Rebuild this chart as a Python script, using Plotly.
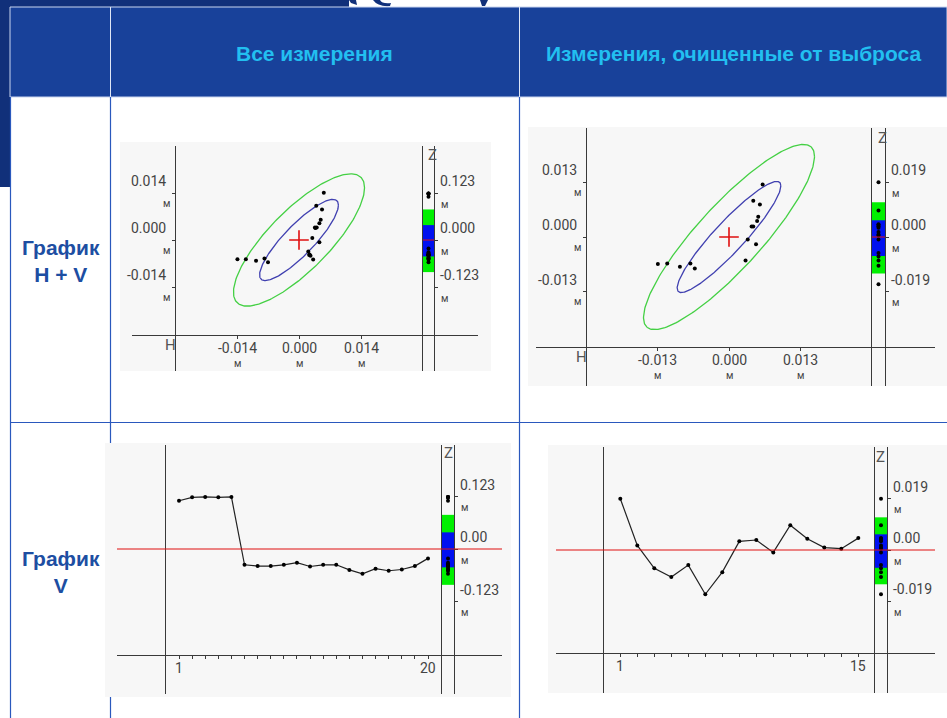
import numpy as np
import plotly.graph_objects as go

W, H = 947, 718

# ---------------- data ----------------
# H+V scatter, all measurements (H, V), м
hv_all_h = [-0.0139, -0.0120, -0.0097, -0.0078, -0.0070, 0.0021, 0.0023, 0.0024, 0.0026, 0.0032,
            0.0030, 0.0046, 0.0036, 0.0037, 0.0040, 0.0046, 0.0049, 0.0039, 0.0052, 0.0056]
hv_all_v = [-0.0057, -0.0057, -0.0062, -0.0055, -0.0066, -0.0034, -0.0045, -0.0043, -0.0047, -0.0058,
            0.0006, -0.0007, 0.0037, 0.0036, 0.0037, 0.0050, 0.0060, 0.0102, 0.0091, 0.0141]
# V series, all measurements, м
v_all = [0.113, 0.121, 0.122, 0.121, 0.122, -0.037, -0.040, -0.040, -0.037, -0.032,
         -0.041, -0.037, -0.037, -0.049, -0.058, -0.046, -0.051, -0.048, -0.040, -0.022]

# H+V scatter, outlier removed
hv_clean_h = [-0.0129, -0.0112, -0.0089, -0.0070, -0.0062, 0.0030, 0.0034, 0.0049, 0.0041, 0.0044,
              0.0051, 0.0053, 0.0044, 0.0056, 0.0061]
hv_clean_v = [-0.0064, -0.0063, -0.0071, -0.0063, -0.0075, -0.0056, -0.0006, -0.0017, 0.0025, 0.0025,
              0.0038, 0.0048, 0.0086, 0.0077, 0.0125]
# V series, outlier removed
v_clean = [0.0190, 0.0017, -0.0068, -0.0100, -0.0056, -0.0164, -0.0082, 0.0032, 0.0037, -0.0009,
           0.0092, 0.0042, 0.0009, 0.0005, 0.0044]

# tolerance bands of the Z strip (low, high)
all_green_band = [-0.084, 0.080]
all_blue_band = [-0.043, 0.039]
clean_green_band = [-0.0127, 0.0121]
clean_blue_band = [-0.0066, 0.0058]

# confidence ellipses: (half-width H, half-height V, correlation)
all_green_ellipse = (0.0148, 0.0197, 0.79)
all_blue_ellipse = (0.0089, 0.0121, 0.86)
clean_green_ellipse = (0.0155, 0.0220, 0.87)
clean_blue_ellipse = (0.0094, 0.0132, 0.92)

# tick values / labels
all_hv_ticks = [-0.014, 0.0, 0.014]
all_hv_labels = ["-0.014", "0.000", "0.014"]
clean_hv_ticks = [-0.013, 0.0, 0.013]
clean_hv_labels = ["-0.013", "0.000", "0.013"]
all_z_ticks = [0.123, 0.0, -0.123]
all_z_labels_hv = ["0.123", "0.000", "-0.123"]
all_z_labels_v = ["0.123", "0.00", "-0.123"]
clean_z_ticks = [0.019, 0.0, -0.019]
clean_z_labels_hv = ["0.019", "0.000", "-0.019"]
clean_z_labels_v = ["0.019", "0.00", "-0.019"]

header_texts = ["Все измерения", "Измерения, очищенные от выброса"]
row_texts = ["График<br>H + V", "График<br>V"]
unit = "м"

# ---------------- styling ----------------
NAVY = "#11307a"
HEADER = "#18419a"
CYAN = "#22bff0"
LABEL_BLUE = "#1d4ea2"
BORDER = "#2a58bd"
PANEL_BG = "#f7f7f7"
AXIS = "#3a3a3a"
TEXT = "#444444"
GREEN_ELL = "#44d044"
BLUE_ELL = "#4040b0"
BAND_GREEN = "#00f000"
BAND_BLUE = "#0010f0"
RED = "#e01010"
CHART_FONT = "Roboto"
TABLE_FONT = "Liberation Sans, Arial"


def fx(px):
    return px / W


def fy(py):
    return 1 - py / H


def xrange_of(dom, m):
    ref_px, ref_val, ppv = m
    return [ref_val + (dom[0] - ref_px) / ppv, ref_val + (dom[1] - ref_px) / ppv]


def yrange_of(dom, m):
    ref_px, ref_val, ppv = m
    return [ref_val + (ref_px - dom[1]) / ppv, ref_val + (ref_px - dom[0]) / ppv]


def ellipse(rx, ry, rho, n=240):
    t = np.linspace(0, 2 * np.pi, n)
    return rx * np.cos(t), ry * (rho * np.cos(t) + np.sqrt(1 - rho ** 2) * np.sin(t))


def note(text, font, **kw):
    d = dict(text=text, showarrow=False, font=font, xanchor="center", yanchor="middle")
    d.update(kw)
    return d


# panel geometry in pixels; maps are (reference px, value at it, px per unit)
panels = [
    dict(kind="hv", bg=(120, 142, 491, 371), xdom=(132, 478), ydom=(146, 371), xline=335, yline=175,
         xmap=(299, 0.0, 62 / 0.014), ymap=(240, 0.0, 47 / 0.014), strip=(423, 434),
         zmap=(240, 0.0, 47 / 0.123), h=hv_all_h, v=hv_all_v, z=v_all,
         ell=[(all_green_ellipse, GREEN_ELL), (all_blue_ellipse, BLUE_ELL)],
         bands=(all_green_band, all_blue_band), ticks=all_hv_ticks, labels=all_hv_labels,
         zt=all_z_ticks, zl=all_z_labels_hv, hpos=(170, 345), zpos=(432, 155)),
    dict(kind="hv", bg=(528, 127, 947, 386), xdom=(536, 935), ydom=(128, 386), xline=347, yline=586,
         xmap=(729, 0.0, 71.7 / 0.013), ymap=(237, 0.0, 54.7 / 0.013), strip=(872, 885),
         zmap=(237, 0.0, 54.7 / 0.019), h=hv_clean_h, v=hv_clean_v, z=v_clean,
         ell=[(clean_green_ellipse, GREEN_ELL), (clean_blue_ellipse, BLUE_ELL)],
         bands=(clean_green_band, clean_blue_band), ticks=clean_hv_ticks, labels=clean_hv_labels,
         zt=clean_z_ticks, zl=clean_z_labels_hv, hpos=(581, 357), zpos=(882, 138)),
    dict(kind="v", bg=(105, 443, 511, 697), xdom=(117, 502), ydom=(445, 694), xline=655, yline=165,
         xmap=(179, 1, 13.105), zmap=(549, 0.0, 52.5 / 0.123), strip=(442, 454), z=v_all,
         bands=(all_green_band, all_blue_band), zt=all_z_ticks, zl=all_z_labels_v, zpos=(448, 453)),
    dict(kind="v", bg=(548, 445, 947, 693), xdom=(556, 935), ydom=(447, 693), xline=653, yline=603,
         xmap=(620.3, 1, 17.0), zmap=(550, 0.0, 51.3 / 0.019), strip=(875, 887), z=v_clean,
         bands=(clean_green_band, clean_blue_band), zt=clean_z_ticks, zl=clean_z_labels_v,
         zpos=(880, 457)),
]

fig = go.Figure()
layout = dict(width=W, height=H, margin=dict(l=0, r=0, t=0, b=0), paper_bgcolor="white",
              plot_bgcolor="rgba(0,0,0,0)", showlegend=False)
shapes = []
annotations = []

# ---------------- table frame ----------------
shapes += [
    dict(type="rect", xref="paper", yref="paper", x0=0, x1=fx(349), y0=fy(7), y1=1,
         fillcolor=NAVY, line_width=0, layer="below"),
    dict(type="path", xref="paper", yref="paper", layer="below", fillcolor=NAVY, line_width=0,
         path=f"M {fx(349)},1 L {fx(356)},1 L {fx(357)},{fy(5)} L {fx(351)},{fy(3)} Z"),
    dict(type="path", xref="paper", yref="paper", layer="below", fillcolor=NAVY, line_width=0,
         path=f"M {fx(373)},1 L {fx(380)},1 Q {fx(382)},{fy(4)} {fx(391)},{fy(3)} "
              f"L {fx(390)},{fy(6)} Q {fx(378)},{fy(7)} {fx(373)},1 Z"),
    dict(type="path", xref="paper", yref="paper", layer="below", fillcolor=NAVY, line_width=0,
         path=f"M {fx(480)},1 L {fx(488)},1 L {fx(485)},{fy(6)} L {fx(482)},{fy(6)} Z"),
    dict(type="rect", xref="paper", yref="paper", x0=0, x1=fx(10), y0=fy(187), y1=1,
         fillcolor=NAVY, line_width=0, layer="below"),
    dict(type="rect", xref="paper", yref="paper", x0=fx(10), x1=1, y0=fy(97), y1=fy(7),
         fillcolor=HEADER, line=dict(color="#c9d5ef", width=1), layer="below"),
]
for xc in (110.5, 519.5):
    shapes.append(dict(type="line", xref="paper", yref="paper", x0=fx(xc), x1=fx(xc), y0=fy(97),
                       y1=fy(7), line=dict(color="#dfe6f5", width=1), layer="below"))
for xc in (10.5, 110.5, 519.5):
    shapes.append(dict(type="line", xref="paper", yref="paper", x0=fx(xc), x1=fx(xc), y0=0,
                       y1=fy(97), line=dict(color=BORDER, width=1.2), layer="below"))
shapes.append(dict(type="line", xref="paper", yref="paper", x0=fx(10), x1=1, y0=fy(422.5),
                   y1=fy(422.5), line=dict(color=BORDER, width=1.2), layer="below"))

header_font = dict(family=TABLE_FONT, size=21, color=CYAN)
row_font = dict(family=TABLE_FONT, size=21, color=LABEL_BLUE)
for txt, xc in zip(header_texts, ((110 + 519) / 2, (519 + 947) / 2)):
    annotations.append(note(f"<b>{txt}</b>", header_font, xref="paper", yref="paper",
                            x=fx(xc), y=fy(53)))
for txt, yc in zip(row_texts, (261, 572)):
    annotations.append(note(f"<b>{txt}</b>", row_font, xref="paper", yref="paper",
                            x=fx(61), y=fy(yc)))

num_font = dict(family=CHART_FONT, size=14, color=TEXT)
unit_font = dict(family=CHART_FONT, size=10, color=TEXT)
axis_font = dict(family=CHART_FONT, size=15, color="#555555")

# ---------------- chart panels ----------------
for k, p in enumerate(panels):
    mi, si = 2 * k + 1, 2 * k + 2
    mx, my = ("x", "y") if mi == 1 else (f"x{mi}", f"y{mi}")
    sx, sy = f"x{si}", f"y{si}"
    ydom = [fy(p["ydom"][1]), fy(p["ydom"][0])]
    ymap = p["ymap"] if p["kind"] == "hv" else p["zmap"]

    # panel background
    bx0, by0, bx1, by1 = p["bg"]
    shapes.append(dict(type="rect", xref="paper", yref="paper", x0=fx(bx0), x1=fx(bx1),
                       y0=fy(by1), y1=fy(by0), fillcolor=PANEL_BG, line_width=0, layer="below"))

    is_hv = p["kind"] == "hv"
    if is_hv:
        xt = p["ticks"]
    else:
        xt = list(range(1, len(p["z"]) + 1))

    layout["xaxis" if mi == 1 else f"xaxis{mi}"] = dict(
        domain=[fx(p["xdom"][0]), fx(p["xdom"][1])], range=xrange_of(p["xdom"], p["xmap"]),
        anchor="free", position=fy(p["xline"]), showline=True, linecolor=AXIS, linewidth=1.2,
        ticks="outside", ticklen=3, tickcolor=AXIS, tickvals=xt, showticklabels=False,
        showgrid=False, zeroline=False, fixedrange=True)
    layout["yaxis" if mi == 1 else f"yaxis{mi}"] = dict(
        domain=ydom, range=yrange_of(p["ydom"], ymap), anchor="free", position=fx(p["yline"]),
        side="left", showline=True, linecolor=AXIS, linewidth=1.2,
        ticks="outside" if is_hv else "", ticklen=3, tickcolor=AXIS,
        tickvals=p["ticks"] if is_hv else [], showticklabels=False, showgrid=False,
        zeroline=False, fixedrange=True)
    layout[f"xaxis{si}"] = dict(domain=[fx(p["strip"][0]), fx(p["strip"][1])], range=[-1, 1],
                                anchor=sy, visible=False, fixedrange=True)
    layout[f"yaxis{si}"] = dict(
        domain=ydom, range=yrange_of(p["ydom"], p["zmap"]), anchor=sx, side="right",
        showline=True, mirror=True, linecolor=AXIS, linewidth=1.2, ticks="outside", ticklen=3,
        tickcolor=AXIS, tickvals=p["zt"], showticklabels=False, showgrid=False, zeroline=False,
        fixedrange=True)

    # Z strip bands
    green, blue = p["bands"]
    for band, col in ((green, BAND_GREEN), (blue, BAND_BLUE)):
        shapes.append(dict(type="rect", xref=f"{sx} domain", yref=sy, x0=0, x1=1, y0=band[0],
                           y1=band[1], fillcolor=col, line_width=0, layer="below"))

    if is_hv:
        shapes.append(dict(type="line", xref=f"{sx} domain", yref=sy, x0=0, x1=1, y0=0, y1=0,
                           line=dict(color=RED, width=1), layer="above"))
        for (rx, ry, rho), col in p["ell"]:
            ex, ey = ellipse(rx, ry, rho)
            fig.add_trace(go.Scatter(x=ex, y=ey, mode="lines", xaxis=mx, yaxis=my,
                                     line=dict(color=col, width=1.3), hoverinfo="skip"))
        fig.add_trace(go.Scatter(x=p["h"], y=p["v"], mode="markers", xaxis=mx, yaxis=my,
                                 marker=dict(color="black", size=4)))
        fig.add_trace(go.Scatter(x=[0], y=[0], mode="markers", xaxis=mx, yaxis=my,
                                 marker=dict(symbol="cross-thin", size=14,
                                             line=dict(color=RED, width=1.6))))
        # tick labels of H and V axes
        for tv, tl in zip(p["ticks"], p["labels"]):
            annotations.append(note(tl, num_font, xref=mx, yref="paper", x=tv,
                                    y=fy(p["xline"] + 13)))
            annotations.append(note(unit, unit_font, xref=mx, yref="paper", x=tv,
                                    y=fy(p["xline"] + 28)))
            annotations.append(note(tl, num_font, xref="paper", yref=my, x=fx(p["yline"] - 7),
                                    y=tv, xanchor="right", yshift=12))
            annotations.append(note(unit, unit_font, xref="paper", yref=my, x=fx(p["yline"] - 3),
                                    y=tv, xanchor="right", yshift=-10))
        annotations.append(note("H", axis_font, xref="paper", yref="paper", x=fx(p["hpos"][0]),
                                y=fy(p["hpos"][1])))
    else:
        shapes.append(dict(type="line", xref=f"{mx} domain", yref=my, x0=0, x1=1, y0=0, y1=0,
                           line=dict(color=RED, width=1.2), layer="above"))
        fig.add_trace(go.Scatter(x=xt, y=p["z"], mode="lines+markers", xaxis=mx, yaxis=my,
                                 line=dict(color="#222222", width=1.2),
                                 marker=dict(color="black", size=4)))
        for tv in (xt[0], xt[-1]):
            annotations.append(note(str(tv), num_font, xref=mx, yref="paper", x=tv,
                                    y=fy(p["xline"] + 13)))

    # Z strip points
    fig.add_trace(go.Scatter(x=[0] * len(p["z"]), y=p["z"], mode="markers", xaxis=sx, yaxis=sy,
                             marker=dict(color="black", size=4)))
    for tv, tl in zip(p["zt"], p["zl"]):
        annotations.append(note(tl, num_font, xref="paper", yref=sy, x=fx(p["strip"][1] + 4),
                                y=tv, xanchor="left", yshift=12))
        annotations.append(note(unit, unit_font, xref="paper", yref=sy, x=fx(p["strip"][1] + 5),
                                y=tv, xanchor="left", yshift=-11))
    annotations.append(note("Z", axis_font, xref="paper", yref="paper", x=fx(p["zpos"][0]),
                            y=fy(p["zpos"][1])))

layout["shapes"] = shapes
layout["annotations"] = annotations
fig.update_layout(**layout)
fig.write_html("out.html")
